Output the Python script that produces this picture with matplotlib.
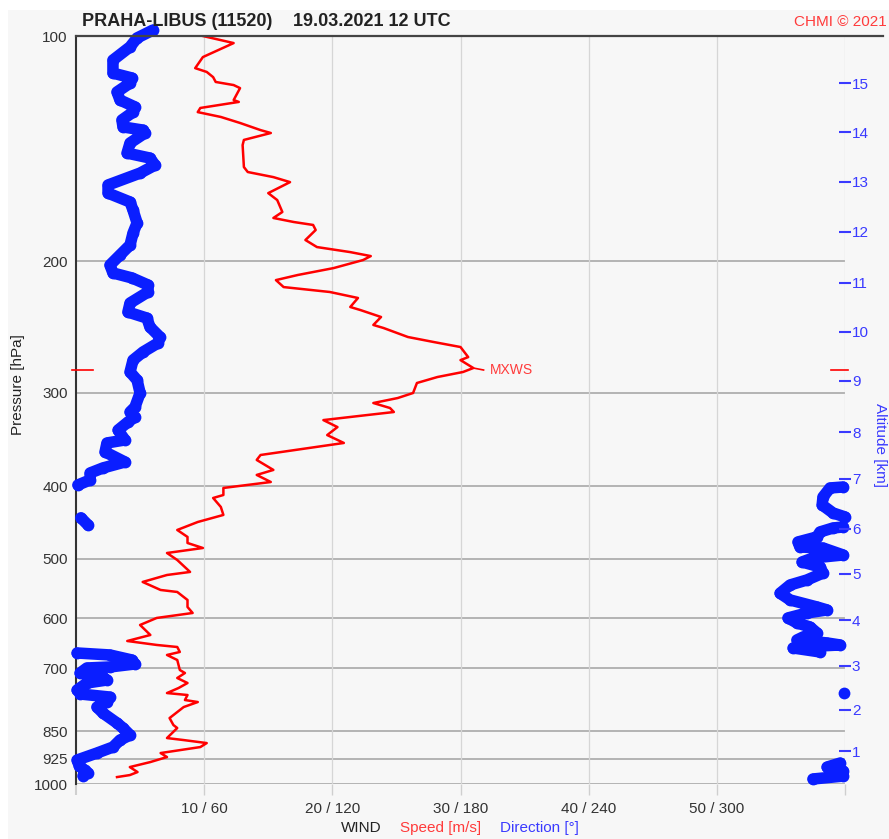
import numpy as np
import matplotlib.pyplot as plt
from matplotlib.patches import Rectangle

# wind speed profile [m/s] vs pressure [hPa]
spd_p = [100, 102.2, 106.7, 110.4, 111.7, 113.5, 115.2, 116.3, 117.4, 121.8,
         122.5, 124.8, 126.4, 128.3, 130.7, 133.6, 134.8, 137.7, 139.9, 149.7,
         152.0, 154.4, 156.8, 162.2, 165.7, 171.9, 175.1, 177.3, 178.9, 181.7,
         187.4, 191.5, 194.5, 196.9, 199.3, 204.3, 208.7, 212.0, 216.6, 219.9,
         224.0, 230.3, 232.5, 237.5, 243.4, 245.7, 252.6, 256.5, 260.5, 268.7,
         271.2, 277.9, 281.3, 285.7, 291.0, 300.1, 304.8, 309.5, 314.3, 318.2,
         321.2, 326.2, 333.3, 341.6, 350.0, 363.2, 368.8, 380.3, 386.2, 394.7,
         402.0, 410.8, 414.6, 426.2, 436.8, 446.4, 457.5, 467.4, 476.2, 483.6,
         491.1, 501.8, 520.6, 525.5, 536.9, 550.3, 553.7, 567.5, 579.9, 590.7,
         599.8, 612.9, 632.1, 643.9, 651.8, 655.9, 666.0, 672.2, 682.7, 704.0,
         710.6, 721.6, 732.8, 744.2, 755.8, 760.4, 772.2, 777.0, 789.1, 816.3,
         834.0, 841.7, 868.1, 873.5, 881.6, 892.5, 909.1, 920.4, 934.7, 949.2,
         963.9, 972.9, 978.9]
spd = [9.9, 12.3, 9.9, 9.3, 10.2, 10.7, 10.9, 12.3, 12.8, 12.3,
       12.7, 9.7, 9.5, 11.3, 12.8, 14.4, 15.2, 13.1, 13.0, 13.1,
       13.4, 15.4, 16.7, 15.0, 15.7, 16.1, 15.4, 17.0, 18.5, 18.7,
       17.9, 18.8, 21.4, 23.0, 22.4, 20.1, 17.3, 15.6, 16.2, 19.8,
       22.0, 21.4, 22.2, 23.8, 23.2, 24.0, 25.9, 27.9, 30.0, 30.6,
       30.0, 31.0, 30.2, 28.2, 26.6, 26.3, 25.1, 23.2, 24.5, 24.8,
       22.7, 19.3, 20.4, 19.6, 20.9, 14.4, 14.1, 15.4, 14.1, 15.2,
       11.5, 11.5, 10.7, 11.3, 11.5, 9.5, 7.9, 8.7, 8.7, 9.9,
       7.1, 7.9, 8.9, 7.1, 5.2, 6.6, 7.9, 8.7, 8.7, 9.1,
       6.3, 5.0, 5.8, 4.0, 6.3, 7.9, 8.1, 7.1, 7.9, 8.1,
       8.5, 7.9, 8.7, 8.0, 7.1, 8.7, 8.5, 9.5, 8.4, 7.3,
       7.6, 7.9, 7.1, 8.4, 10.2, 9.7, 6.6, 7.1, 5.8, 4.2,
       4.8, 4.2, 3.2]

# wind direction [deg] vs pressure [hPa]
dir_p = [98.2, 100.6, 103.4, 107.7, 112.1, 113.8, 115.6, 118.8, 121.8, 124.4,
         126.4, 129.5, 132.3, 133.6, 134.8, 139.0, 143.4, 145.6, 148.8, 152.5,
         158.2, 162.2, 166.7, 170.9, 177.8, 183.4, 190.3, 196.3, 202.4, 207.4,
         210.6, 215.2, 219.9, 227.5, 233.9, 238.3, 244.9, 252.6, 257.3, 264.5,
         271.2, 281.3, 288.4, 300.1, 313.4, 318.2, 323.2, 328.2, 336.4, 346.8,
         350.0, 359.8, 371.1, 378.0, 383.9, 392.2, 398.3,
         400.8, 402.0, 413.3, 423.6, 434.2, 439.5,
         440.7, 450.5,
         453.3, 454.7, 460.3, 467.4, 474.7, 482.1, 483.6, 494.1, 498.7, 504.9,
         512.7, 522.3, 533.6, 541.9, 555.9, 567.5, 579.9, 585.2, 590.7, 599.8,
         609.1, 616.7, 628.2, 636.0, 641.9, 647.8, 651.8, 655.9, 657.9, 666.0,
         668.1, 672.2, 682.7, 691.1, 697.5, 699.7, 710.6, 719.4, 726.1, 732.8, 748.8,
         755.8,
         758.0, 765.2, 777.0, 789.1, 803.8, 828.9, 841.7, 860.1, 873.5, 892.5, 909.1, 928.9,
         945.0, 958.0, 966.0, 975.0,
         937.6, 949.2, 961.0, 976.0, 984.7]
dirs = [36.0, 28.6, 25.3, 17.3, 17.3, 26.2, 25.3, 19.2, 20.6, 27.6,
        26.7, 21.5, 22.0, 31.4, 32.3, 25.3, 23.9, 34.6, 37.0, 30.0,
        15.0, 15.0, 25.3, 26.7, 28.6, 26.7, 25.3, 20.6, 15.9, 17.3,
        26.2, 33.7, 33.7, 25.3, 24.3, 33.2, 34.6, 39.3, 38.4, 31.4,
        26.7, 25.3, 28.6, 30.0, 27.6, 25.3, 27.6, 24.3, 19.7, 22.9,
        14.5, 13.6, 22.9, 12.6, 6.6, 6.6, 0.9,
        359.1, 353.0, 349.7, 349.3, 354.4, 360.0,
        2.3, 5.6,
        359.1, 354.4, 348.3, 346.9, 338.0, 338.9, 349.7, 359.1, 345.0, 339.9,
        348.3, 349.7, 342.2, 334.3, 329.6, 334.3, 346.9, 351.6, 342.2, 333.3,
        337.5, 343.6, 346.9, 340.4, 337.5, 351.6, 357.7, 338.9, 335.7, 348.3,
        0.5, 15.9, 26.2, 27.6, 15.9, 5.1, 1.9, 12.6, 14.5, 5.1, 0.5,
        359.5,
        1.9, 15.9, 14.5, 9.8, 12.6, 19.2, 22.0, 25.3, 20.6, 17.3, 9.8, 0.5,
        1.5, 4.0, 5.5, 3.3,
        357.7, 351.6, 359.1, 359.1, 345.0]

p_ticks = [100, 200, 300, 400, 500, 600, 700, 850, 925, 1000]
x_ticks = [0, 10, 20, 30, 40, 50, 60]
x_labels = ['', '10 / 60', '20 / 120', '30 / 180', '40 / 240', '50 / 300', '']
alt_km = [1, 2, 3, 4, 5, 6, 7, 8, 9, 10, 11, 12, 13, 14, 15]
alt_p = [903.5, 796, 695.4, 603.6, 523.9, 456.1, 391, 338.5, 289.2, 248.7,
         213.9, 182.8, 156.7, 134.4, 115.6]
mxws_p = 279.6

RED = '#ff0000'
BLUE = '#0a1eff'
TBLUE = '#3a3aff'

plt.rcParams['font.family'] = ['Liberation Sans', 'DejaVu Sans']

fig = plt.figure(figsize=(8.89, 8.39), dpi=100, facecolor='white')
fig.patches.append(Rectangle((8 / 889, 0), 1, 1 - 10 / 839, transform=fig.transFigure,
                             facecolor='#f7f7f7', edgecolor='none', zorder=-10))
ax = fig.add_axes([76 / 889, 55 / 839, 769 / 889, 748 / 839])
ax.set_facecolor('#f7f7f7')

ax.set_yscale('log')
ax.set_ylim(1000, 100)
ax.set_xlim(0, 60)
ax.set_yticks(p_ticks)
ax.set_yticklabels([str(p) for p in p_ticks])
ax.yaxis.set_minor_locator(plt.NullLocator())
ax.set_xticks(x_ticks)
ax.set_xticklabels(x_labels)
ax.tick_params(axis='y', length=0, pad=6, labelsize=11, labelcolor='#333333')
ax.tick_params(axis='x', length=8, width=1, color='#cfcfcf', pad=5,
               labelsize=11, labelcolor='#333333')
ax.get_xticklines()[0].set_color('#333333')
ax.get_xticklines()[0].set_markeredgewidth(1.5)

for p in p_ticks[1:]:
    ax.axhline(p, color='#a8a8a8', lw=1.2, zorder=1)
for x in x_ticks[1:]:
    ax.axvline(x, color='#d6d6d6', lw=0.9, zorder=1)

for s in ['right', 'bottom']:
    ax.spines[s].set_visible(False)
ax.spines['left'].set_color('#333333')
ax.spines['left'].set_linewidth(1.5)
ax.spines['top'].set_visible(False)
ax.plot([0, 1.049], [1, 1], transform=ax.transAxes, color='#444444', lw=1.6,
        clip_on=False, zorder=5)

# speed
ax.plot(spd, spd_p, color=RED, lw=1.8, zorder=3)

# direction (same axis, 6 deg per m/s), broken where it wraps 360 -> 0
d = np.array(dirs) / 6.0
pp = np.array(dir_p)
cut = np.where(np.abs(np.diff(d)) > 30)[0] + 1
ax.plot(np.insert(d, cut, np.nan), np.insert(pp, cut, np.nan), color=BLUE, lw=8.3,
        solid_capstyle='round', solid_joinstyle='round', clip_on=False, zorder=4)
ax.plot(d, pp, 'o', ms=8.5, color=BLUE, mec='none', clip_on=False, zorder=4)

# max wind marker
imax = int(np.argmax(spd))
ax.plot([-0.3, 1.3], [mxws_p, mxws_p], color=RED, lw=1.2, clip_on=False, zorder=5)
ax.plot([58.9, 60.25], [mxws_p, mxws_p], color=RED, lw=1.2, clip_on=False, zorder=5)
ax.plot([spd[imax], spd[imax] + 0.8], [spd_p[imax], mxws_p], color=RED, lw=1.2, zorder=3)
ax.text(spd[imax] + 1.3, mxws_p, 'MXWS', color='#ff3b3b', fontsize=10,
        va='center', ha='left')

# altitude axis
ax2 = ax.twinx()
ax2.set_yscale('log')
ax2.set_ylim(1000, 100)
ax2.set_yticks(alt_p)
ax2.set_yticklabels([str(k) for k in alt_km])
ax2.yaxis.set_minor_locator(plt.NullLocator())
ax2.tick_params(axis='y', direction='inout', length=8, width=1.5, color=TBLUE,
                labelcolor=TBLUE, labelsize=11, pad=1)
for s in ax2.spines.values():
    s.set_visible(False)

fig.text(18 / 889, 1 - 385 / 839, 'Pressure [hPa]', rotation=90, fontsize=11,
         color='#222222', ha='center', va='center')
fig.text(880 / 889, 1 - 445 / 839, 'Altitude [km]', rotation=270, fontsize=11,
         color=TBLUE, ha='center', va='center')

fig.text(82 / 889, 1 - 21 / 839, 'PRAHA-LIBUS (11520)', fontsize=13,
         fontweight='bold', color='#222222', va='center', ha='left')
fig.text(293 / 889, 1 - 21 / 839, '19.03.2021 12 UTC', fontsize=13,
         fontweight='bold', color='#222222', va='center', ha='left')
fig.text(887 / 889, 1 - 22 / 839, 'CHMI \u00a9 2021', fontsize=11,
         color='#ff3b3b', va='center', ha='right')

fig.text(341 / 889, 1 - 828 / 839, 'WIND', fontsize=11, color='#222222',
         va='center', ha='left')
fig.text(400 / 889, 1 - 828 / 839, 'Speed [m/s]', fontsize=11, color='#ff3b3b',
         va='center', ha='left')
fig.text(500 / 889, 1 - 828 / 839, 'Direction [\u00b0]', fontsize=11, color=TBLUE,
         va='center', ha='left')

fig.savefig('out.png', dpi=100, facecolor=fig.get_facecolor())
